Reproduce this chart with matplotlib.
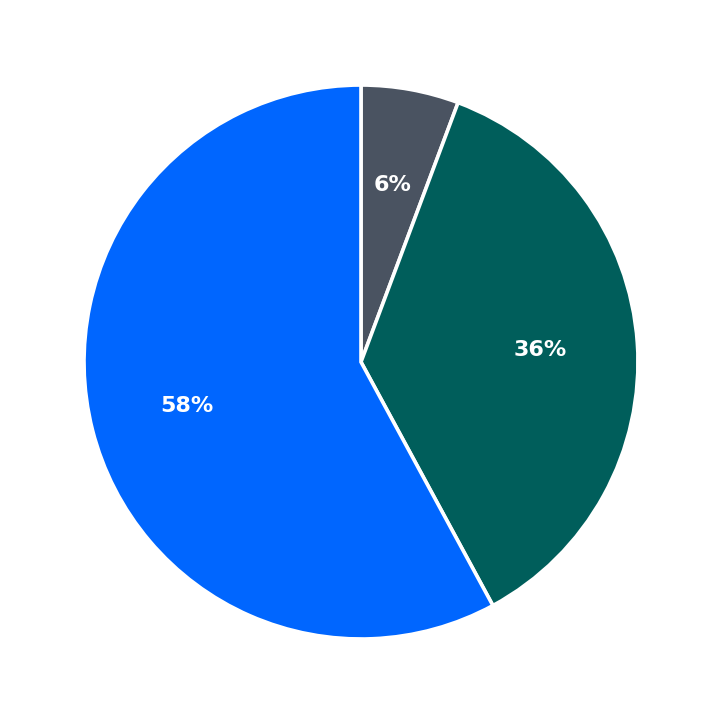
import matplotlib
matplotlib.use("Agg")
import matplotlib.pyplot as plt

labels = ["Other", "Teal", "Blue"]
values = [5.7, 36.4, 57.9]
colors = ["#4a5361", "#005e5b", "#0066ff"]

fig = plt.figure(figsize=(7.23, 7.23), dpi=100)
ax = fig.add_axes([0.1162, 0.1162, 0.7662, 0.7662])
wedges, texts, autotexts = ax.pie(
    values, colors=colors, startangle=90, counterclock=False,
    autopct="%.0f%%", pctdistance=0.65,
    wedgeprops=dict(edgecolor="white", linewidth=2.6),
    textprops=dict(color="white", fontsize=16, fontweight="bold"),
)
ax.set_xlim(-1, 1)
ax.set_ylim(-1, 1)
ax.set_aspect("equal")
ax.axis("off")
fig.savefig("out.png", dpi=100, facecolor="white")
